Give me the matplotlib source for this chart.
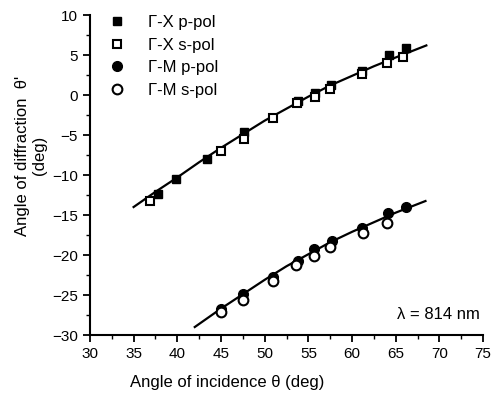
import numpy as np
import matplotlib
matplotlib.use('Agg')
import matplotlib.pyplot as plt
from matplotlib.ticker import MultipleLocator

plt.rcParams['font.family'] = ['Liberation Sans', 'DejaVu Sans']

# Gamma-X data
gx_p_x = [37.8, 39.8, 43.4, 47.6, 53.8, 55.8, 57.6, 61.1, 64.2, 66.2]
gx_p_y = [-12.4, -10.5, -8.0, -4.6, -0.8, 0.2, 1.3, 3.0, 5.0, 5.9]
gx_s_x = [36.9, 45.0, 47.6, 50.9, 53.7, 55.8, 57.5, 61.1, 64.0, 65.8]
gx_s_y = [-13.2, -7.0, -5.5, -2.9, -1.0, -0.3, 0.8, 2.6, 4.0, 4.8]

# Gamma-M data
gm_p_x = [45.0, 47.5, 50.9, 53.8, 55.7, 57.7, 61.1, 64.1, 66.2]
gm_p_y = [-26.8, -24.9, -22.8, -20.8, -19.2, -18.3, -16.6, -14.8, -14.0]
gm_s_x = [45.0, 47.5, 50.9, 53.6, 55.7, 57.5, 61.2, 64.0]
gm_s_y = [-27.1, -25.6, -23.3, -21.25, -20.1, -19.0, -17.2, -16.0]

# curves
fit_gx_x = [35, 37.5, 40, 42.5, 45, 47.5, 50, 52.5, 55, 57.5, 60, 62.5, 65, 68.5]
fit_gx_y = [-14.0, -12.1, -10.3, -8.4, -6.6, -4.9, -3.2, -1.7, -0.2, 1.2, 2.4, 3.6, 4.7, 6.2]
fit_gm_x = [42, 45, 47.5, 50, 52.5, 55, 57.5, 60, 62.5, 65, 68.4]
fit_gm_y = [-29.0, -26.7, -24.9, -23.1, -21.4, -19.9, -18.4, -17.1, -15.9, -14.7, -13.25]

fig = plt.figure(figsize=(4.94, 3.96), dpi=100)
ax = fig.add_axes([0.182, 0.154, 0.796, 0.808])

ax.plot(fit_gx_x, fit_gx_y, color='black', lw=1.6)
ax.plot(fit_gm_x, fit_gm_y, color='black', lw=1.6)

ax.plot(gx_p_x, gx_p_y, 's', color='black', ms=6, label='Γ-X p-pol')
ax.plot(gx_s_x, gx_s_y, 's', mfc='white', mec='black', mew=1.5, ms=6, label='Γ-X s-pol')
ax.plot(gm_p_x, gm_p_y, 'o', color='black', ms=7, label='Γ-M p-pol')
ax.plot(gm_s_x, gm_s_y, 'o', mfc='white', mec='black', mew=1.5, ms=7, label='Γ-M s-pol')

ax.set_xlim(30, 75)
ax.set_ylim(-30, 10)
ax.xaxis.set_major_locator(MultipleLocator(5))
ax.xaxis.set_minor_locator(MultipleLocator(2.5))
ax.yaxis.set_major_locator(MultipleLocator(5))
ax.yaxis.set_minor_locator(MultipleLocator(2.5))
ax.tick_params(which='major', direction='out', length=5, width=1.3, labelsize=11)
ax.tick_params(which='minor', direction='out', length=3, width=1.0)
for side in ['top', 'right']:
    ax.spines[side].set_visible(False)
for side in ['left', 'bottom']:
    ax.spines[side].set_linewidth(1.5)

ax.set_xlabel('Angle of incidence θ (deg)', fontsize=12)
ax.xaxis.set_label_coords(0.35, -0.125)
ax.set_ylabel("Angle of diffraction  θ'\n(deg)", fontsize=12, linespacing=1.1)
ax.yaxis.set_label_coords(-0.11, 0.56)

ax.text(69.9, -27.4, 'λ = 814 nm', ha='center', va='center', fontsize=12)

ax.legend(loc='upper left', bbox_to_anchor=(0.03, 1.02), frameon=False,
          handlelength=1.0, handletextpad=1.4, labelspacing=0.45, fontsize=12,
          borderaxespad=0)

plt.savefig('out.png', dpi=100)
plt.close()
